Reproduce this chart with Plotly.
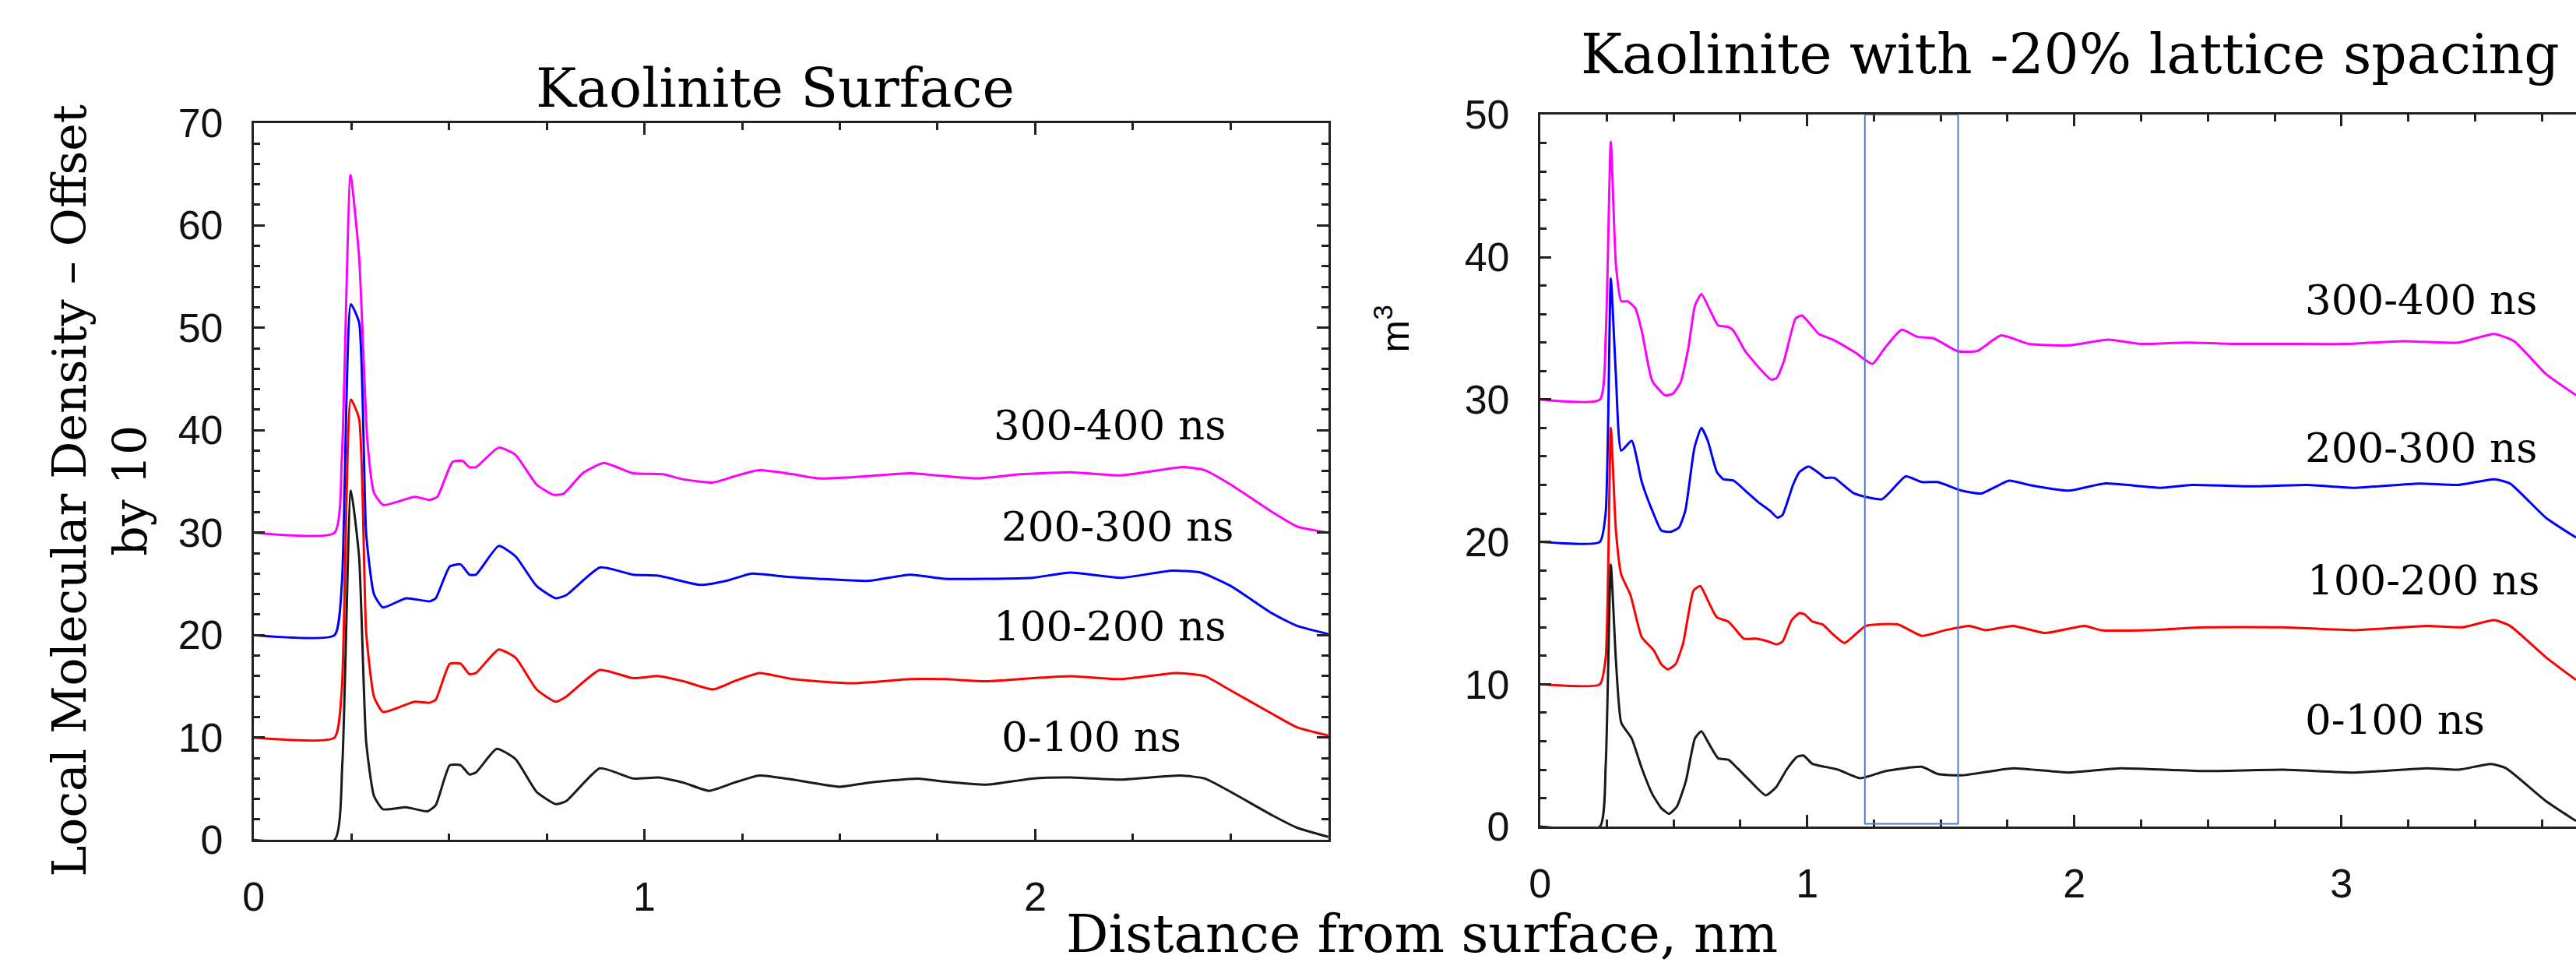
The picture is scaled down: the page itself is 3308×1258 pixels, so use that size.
import plotly.graph_objects as go

W, H = 3308, 1258

# ---- Kaolinite surface (distance in nm, density offset by 10 per interval) ----
surf_x_300_400 = [0, 0.207, 0.226, 0.248, 0.270, 0.291, 0.308, 0.332, 0.412, 0.45, 0.47, 0.509, 0.535, 0.552,
                  0.569, 0.627, 0.670, 0.724, 0.767, 0.793, 0.842, 0.896, 0.971, 1.047, 1.1, 1.176, 1.23,
                  1.294, 1.38, 1.445, 1.53, 1.68, 1.746, 1.854, 1.961, 2.09, 2.22, 2.38, 2.434, 2.5, 2.607,
                  2.67, 2.75]
surf_y_300_400 = [30, 30, 37.5, 64.9, 56.9, 39.0, 33.9, 32.7, 33.5, 33.2, 33.5, 36.9, 37.0, 36.4,
                  36.4, 38.3, 37.6, 34.7, 33.7, 33.8, 35.8, 36.8, 35.8, 35.7, 35.2, 34.9, 35.5,
                  36.1, 35.7, 35.3, 35.4, 35.8, 35.6, 35.3, 35.7, 35.9, 35.6, 36.4, 36.1, 34.7, 32.0,
                  30.6, 30.0]

surf_x_200_300 = [0, 0.207, 0.226, 0.249, 0.270, 0.288, 0.308, 0.331, 0.39, 0.45, 0.466, 0.502, 0.53, 0.552,
                  0.569, 0.627, 0.67, 0.724, 0.773, 0.8, 0.886, 0.971, 1.036, 1.144, 1.21, 1.273, 1.36,
                  1.445, 1.574, 1.68, 1.768, 1.876, 1.993, 2.09, 2.22, 2.35, 2.424, 2.5, 2.607, 2.67, 2.75]
surf_y_200_300 = [20, 20, 25.1, 52.3, 50.5, 29.9, 24.0, 22.7, 23.6, 23.3, 23.6, 26.7, 26.9, 25.9,
                  25.9, 28.7, 27.7, 24.8, 23.6, 23.9, 26.6, 25.9, 25.8, 24.9, 25.3, 26.0, 25.7,
                  25.5, 25.3, 25.9, 25.5, 25.5, 25.6, 26.1, 25.6, 26.3, 26.1, 24.8, 22.1, 20.9, 20.1]

surf_x_100_200 = [0, 0.207, 0.226, 0.249, 0.270, 0.288, 0.308, 0.331, 0.412, 0.45, 0.466, 0.502, 0.53, 0.552,
                  0.569, 0.627, 0.67, 0.724, 0.773, 0.8, 0.886, 0.971, 1.036, 1.1, 1.176, 1.23, 1.294,
                  1.38, 1.53, 1.68, 1.768, 1.876, 1.993, 2.09, 2.22, 2.36, 2.434, 2.5, 2.607, 2.67, 2.75]
surf_y_100_200 = [10, 10, 14.9, 43.0, 41.1, 20.3, 14.0, 12.5, 13.5, 13.4, 13.7, 17.2, 17.2, 16.2,
                  16.3, 18.6, 17.8, 14.7, 13.5, 14.0, 16.6, 15.8, 16.0, 15.5, 14.7, 15.5, 16.3,
                  15.7, 15.3, 15.7, 15.7, 15.5, 15.8, 16.0, 15.7, 16.3, 16.0, 14.6, 12.3, 11.0, 10.2]

surf_x_0_100 = [0, 0.207, 0.227, 0.249, 0.270, 0.288, 0.308, 0.331, 0.39, 0.445, 0.466, 0.502, 0.53, 0.552,
                0.569, 0.622, 0.67, 0.724, 0.773, 0.8, 0.886, 0.971, 1.036, 1.1, 1.165, 1.23, 1.294,
                1.38, 1.5, 1.574, 1.7, 1.768, 1.876, 1.993, 2.09, 2.22, 2.37, 2.434, 2.5, 2.607, 2.67, 2.75]
surf_y_0_100 = [0, 0, 7.4, 34.1, 27.6, 9.6, 4.3, 3.0, 3.2, 2.8, 3.4, 7.3, 7.3, 6.4,
                6.6, 8.9, 7.9, 4.7, 3.5, 3.8, 7.0, 6.0, 6.1, 5.6, 4.8, 5.6, 6.3,
                5.9, 5.2, 5.6, 6.0, 5.7, 5.4, 6.0, 6.1, 5.9, 6.3, 6.0, 4.7, 2.4, 1.2, 0.3]

# ---- Kaolinite with -20% lattice spacing ----
lat_x_300_400 = [0, 0.224, 0.246, 0.265, 0.284, 0.304, 0.328, 0.357, 0.381, 0.42, 0.468, 0.497, 0.526, 0.555,
                 0.58, 0.604, 0.633, 0.667, 0.705, 0.725, 0.768, 0.821, 0.865, 0.885, 0.913, 0.957, 0.981,
                 1.02, 1.044, 1.097, 1.18, 1.244, 1.294, 1.354, 1.413, 1.473, 1.562, 1.636, 1.726, 1.83,
                 1.979, 2.128, 2.247, 2.426, 2.604, 2.783, 3.021, 3.229, 3.438, 3.572, 3.646, 3.765, 3.878]
lat_y_300_400 = [30, 30, 34.5, 48.1, 39.5, 36.9, 36.9, 36.4, 34.8, 31.3, 30.3, 30.4, 31.2, 33.6,
                 36.6, 37.4, 36.4, 35.2, 35.1, 34.8, 33.4, 32.2, 31.4, 31.5, 32.7, 35.7, 35.9,
                 35.1, 34.6, 34.2, 33.3, 32.5, 33.7, 34.9, 34.4, 34.3, 33.4, 33.4, 34.5, 33.9,
                 33.8, 34.2, 33.9, 34.0, 33.9, 33.9, 33.9, 34.1, 34.0, 34.6, 34.1, 31.8, 30.3]

lat_x_200_300 = [0, 0.224, 0.246, 0.265, 0.284, 0.304, 0.343, 0.381, 0.42, 0.454, 0.487, 0.52, 0.544, 0.578,
                 0.604, 0.628, 0.662, 0.686, 0.725, 0.768, 0.816, 0.86, 0.889, 0.908, 0.947, 0.971, 1.005,
                 1.039, 1.068, 1.101, 1.176, 1.28, 1.369, 1.429, 1.488, 1.578, 1.652, 1.756, 1.83, 1.979,
                 2.113, 2.322, 2.44, 2.664, 2.872, 3.051, 3.289, 3.438, 3.572, 3.631, 3.765, 3.878]
lat_y_200_300 = [20, 20, 22.1, 38.5, 31.7, 26.4, 27.1, 24.2, 22.2, 20.8, 20.7, 21.0, 22.2, 26.6,
                 28.0, 27.1, 24.9, 24.4, 24.3, 23.6, 22.8, 22.2, 21.7, 21.9, 24.0, 24.9, 25.3,
                 24.9, 24.5, 24.5, 23.4, 23.0, 24.6, 24.2, 24.2, 23.6, 23.4, 24.3, 24.0, 23.6,
                 24.1, 23.8, 24.0, 23.9, 24.0, 23.8, 24.1, 24.0, 24.4, 24.1, 21.7, 20.3]

lat_x_100_200 = [0, 0.224, 0.246, 0.265, 0.284, 0.304, 0.338, 0.381, 0.425, 0.454, 0.478, 0.507, 0.536, 0.575,
                 0.6, 0.628, 0.662, 0.705, 0.725, 0.763, 0.807, 0.855, 0.885, 0.908, 0.942, 0.971, 0.991,
                 1.02, 1.058, 1.097, 1.14, 1.22, 1.339, 1.429, 1.518, 1.607, 1.667, 1.771, 1.89, 2.039,
                 2.099, 2.277, 2.485, 2.783, 3.051, 3.319, 3.453, 3.572, 3.631, 3.765, 3.878]
lat_y_100_200 = [10, 10, 11.9, 28.0, 20.8, 17.7, 16.3, 13.3, 12.4, 11.4, 11.05, 11.4, 12.9, 16.6,
                 16.9, 15.9, 14.7, 14.4, 14.0, 13.2, 13.2, 13.0, 12.8, 13.0, 14.5, 15.0, 14.9,
                 14.4, 14.2, 13.5, 12.9, 14.1, 14.2, 13.4, 13.8, 14.1, 13.8, 14.1, 13.6, 14.1,
                 13.8, 13.8, 14.0, 14.0, 13.8, 14.1, 14.0, 14.5, 14.1, 11.9, 10.3]

lat_x_0_100 = [0, 0.224, 0.246, 0.265, 0.284, 0.304, 0.343, 0.381, 0.42, 0.454, 0.483, 0.512, 0.546, 0.58,
               0.604, 0.633, 0.667, 0.705, 0.739, 0.787, 0.845, 0.885, 0.923, 0.962, 0.986, 1.02, 1.068,
               1.116, 1.199, 1.294, 1.429, 1.488, 1.578, 1.771, 1.979, 2.173, 2.485, 2.783, 3.051, 3.319,
               3.438, 3.56, 3.616, 3.765, 3.878]
lat_y_0_100 = [0, 0, 4.4, 18.4, 11.7, 7.3, 6.2, 4.1, 2.3, 1.3, 0.9, 1.4, 3.2, 6.2,
               6.7, 5.8, 4.8, 4.7, 4.1, 3.2, 2.2, 2.8, 4.0, 4.9, 5.0, 4.4, 4.2,
               4.0, 3.4, 3.9, 4.2, 3.7, 3.6, 4.1, 3.8, 4.1, 3.9, 4.0, 3.8, 4.1,
               4.0, 4.4, 4.1, 1.8, 0.4]

interval_labels = ["300-400 ns", "200-300 ns", "100-200 ns", "0-100 ns"]
line_colors = ["#ff00ff", "#0000ff", "#ff0000", "#1a1a1a"]

surf_label_x = [1.89, 1.91, 1.89, 1.91]
surf_label_y = [40.5, 30.6, 20.9, 10.1]
lat_label_x = [2.857, 2.857, 2.866, 2.857]
lat_label_y = [37.0, 26.65, 17.3, 7.55]

# highlighted band on the compressed-lattice panel
band_x = [1.216, 1.565]
band_y = [0.2, 50]

surf_series = [(surf_x_300_400, surf_y_300_400), (surf_x_200_300, surf_y_200_300),
               (surf_x_100_200, surf_y_100_200), (surf_x_0_100, surf_y_0_100)]
lat_series = [(lat_x_300_400, lat_y_300_400), (lat_x_200_300, lat_y_200_300),
              (lat_x_100_200, lat_y_100_200), (lat_x_0_100, lat_y_0_100)]

fig = go.Figure()
for (xs, ys), col, name in zip(surf_series, line_colors, interval_labels):
    fig.add_trace(go.Scatter(x=xs, y=ys, mode="lines", name=name, xaxis="x", yaxis="y",
                             line=dict(color=col, width=3, shape="spline", smoothing=0.5)))
for (xs, ys), col, name in zip(lat_series, line_colors, interval_labels):
    fig.add_trace(go.Scatter(x=xs, y=ys, mode="lines", name=name, xaxis="x2", yaxis="y2",
                             line=dict(color=col, width=3, shape="spline", smoothing=0.5)))


def px_x(p):
    return p / W


def px_y(p):
    return 1 - p / H


tick_font = dict(family="Liberation Sans, Arial, sans-serif", size=52, color="#111111")
serif = "DejaVu Serif, serif"


def axis_style(rng, dtick, minor_dtick, domain, anchor, mirror):
    return dict(range=rng, domain=domain, anchor=anchor, dtick=dtick, tick0=0,
                ticks="inside", ticklen=15, tickwidth=2.5, tickcolor="#222222",
                minor=dict(dtick=minor_dtick, tick0=0, ticks="inside", ticklen=9,
                           tickwidth=2.5, tickcolor="#222222"),
                showline=True, linewidth=2.5, linecolor="#222222", mirror=mirror,
                showgrid=False, zeroline=False, tickfont=tick_font, ticklabelstandoff=26)


fig.update_layout(
    width=W, height=H, margin=dict(l=0, r=0, t=0, b=0),
    paper_bgcolor="white", plot_bgcolor="white", showlegend=False,
    xaxis=axis_style([0, 2.75], 1, 0.25, [px_x(313), px_x(1699)], "y", "ticks"),
    yaxis=axis_style([0, 70], 10, 2, [px_y(1100), px_y(135)], "x", "ticks"),
    xaxis2=axis_style([0, (W - 1972) / 344.5], 1, 0.25, [px_x(1972), 1.0], "y2", "ticks"),
    yaxis2=axis_style([0, 50], 10, 2, [px_y(1082), px_y(124)], "x2", False),
)

fig.add_shape(type="rect", xref="x2", yref="y2", x0=band_x[0], x1=band_x[1], y0=band_y[0], y1=band_y[1],
              line=dict(color="#4f7fbf", width=2), fillcolor="rgba(0,0,0,0)")

for lbl, lx, ly in zip(interval_labels, surf_label_x, surf_label_y):
    fig.add_annotation(x=lx, y=ly, xref="x", yref="y", text=lbl, showarrow=False,
                       xanchor="left", yanchor="middle", font=dict(family=serif, size=53, color="black"))
for lbl, lx, ly in zip(interval_labels, lat_label_x, lat_label_y):
    fig.add_annotation(x=lx, y=ly, xref="x2", yref="y2", text=lbl, showarrow=False,
                       xanchor="left", yanchor="middle", font=dict(family=serif, size=53, color="black"))

fig.add_annotation(x=px_x(986), y=px_y(88), xref="paper", yref="paper", text="Kaolinite Surface",
                   showarrow=False, xanchor="center", yanchor="middle",
                   font=dict(family=serif, size=70, color="black"))
fig.add_annotation(x=px_x(2656), y=px_y(42), xref="paper", yref="paper",
                   text="Kaolinite with -20% lattice spacing", showarrow=False,
                   xanchor="center", yanchor="middle", font=dict(family=serif, size=71, color="black"))
fig.add_annotation(x=px_x(1820), y=px_y(1226), xref="paper", yref="paper",
                   text="Distance from surface, nm", showarrow=False, xanchor="center", yanchor="middle",
                   font=dict(family=serif, size=68, color="black"))
fig.add_annotation(x=px_x(114), y=px_y(630), xref="paper", yref="paper",
                   text="Local Molecular Density \u2013 Offset<br>by 10", textangle=-90,
                   showarrow=False, xanchor="center", yanchor="middle",
                   font=dict(family=serif, size=60, color="black"))
fig.add_annotation(x=px_x(1782), y=px_y(412), xref="paper", yref="paper", text="m<sup>3</sup>",
                   textangle=-90, showarrow=False, xanchor="center", yanchor="middle",
                   font=dict(family="Liberation Sans, Arial, sans-serif", size=50, color="black"))

fig.write_html("out.html")
